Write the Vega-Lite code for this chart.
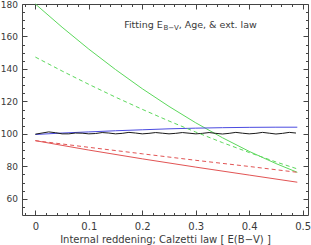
{
  "$schema": "https://vega.github.io/schema/vega-lite/v6.json",
  "width": 286,
  "height": 211,
  "autosize": {"type": "none"},
  "padding": {"left": 22, "top": 4, "right": 3, "bottom": 30},
  "config": {
    "view": {"stroke": "#444", "strokeWidth": 1},
    "axis": {
      "domain": false, "grid": false, "labelFlush": false,
      "labelFont": "DejaVu Sans", "titleFont": "DejaVu Sans",
      "labelFontSize": 10, "titleFontSize": 10, "titleFontWeight": "normal",
      "labelColor": "#3a3a3a", "titleColor": "#3a3a3a", "tickColor": "#444", "tickWidth": 1
    }
  },
  "datasets": {
    "lines": [
      {"s": "g1", "c": "green", "d": "solid", "x": 0, "y": 180},
      {"s": "g1", "c": "green", "d": "solid", "x": 0.05, "y": 165.7},
      {"s": "g1", "c": "green", "d": "solid", "x": 0.1, "y": 152.2},
      {"s": "g1", "c": "green", "d": "solid", "x": 0.15, "y": 139.6},
      {"s": "g1", "c": "green", "d": "solid", "x": 0.2, "y": 127.8},
      {"s": "g1", "c": "green", "d": "solid", "x": 0.25, "y": 116.9},
      {"s": "g1", "c": "green", "d": "solid", "x": 0.3, "y": 106.8},
      {"s": "g1", "c": "green", "d": "solid", "x": 0.35, "y": 97.6},
      {"s": "g1", "c": "green", "d": "solid", "x": 0.4, "y": 89.2},
      {"s": "g1", "c": "green", "d": "solid", "x": 0.45, "y": 81.7},
      {"s": "g1", "c": "green", "d": "solid", "x": 0.49, "y": 76.3},
      {"s": "g2", "c": "green", "d": "dash", "x": 0, "y": 147.3},
      {"s": "g2", "c": "green", "d": "dash", "x": 0.05, "y": 138.7},
      {"s": "g2", "c": "green", "d": "dash", "x": 0.1, "y": 130.5},
      {"s": "g2", "c": "green", "d": "dash", "x": 0.15, "y": 122.6},
      {"s": "g2", "c": "green", "d": "dash", "x": 0.2, "y": 115.1},
      {"s": "g2", "c": "green", "d": "dash", "x": 0.25, "y": 107.9},
      {"s": "g2", "c": "green", "d": "dash", "x": 0.3, "y": 101.1},
      {"s": "g2", "c": "green", "d": "dash", "x": 0.35, "y": 94.6},
      {"s": "g2", "c": "green", "d": "dash", "x": 0.4, "y": 88.5},
      {"s": "g2", "c": "green", "d": "dash", "x": 0.45, "y": 82.7},
      {"s": "g2", "c": "green", "d": "dash", "x": 0.49, "y": 78.4},
      {"s": "b", "c": "blue", "d": "solid", "x": 0, "y": 99.6},
      {"s": "b", "c": "blue", "d": "solid", "x": 0.05, "y": 100.5},
      {"s": "b", "c": "blue", "d": "solid", "x": 0.1, "y": 101.2},
      {"s": "b", "c": "blue", "d": "solid", "x": 0.15, "y": 101.9},
      {"s": "b", "c": "blue", "d": "solid", "x": 0.2, "y": 102.5},
      {"s": "b", "c": "blue", "d": "solid", "x": 0.25, "y": 103.1},
      {"s": "b", "c": "blue", "d": "solid", "x": 0.3, "y": 103.5},
      {"s": "b", "c": "blue", "d": "solid", "x": 0.35, "y": 103.8},
      {"s": "b", "c": "blue", "d": "solid", "x": 0.4, "y": 104.0},
      {"s": "b", "c": "blue", "d": "solid", "x": 0.45, "y": 104.1},
      {"s": "b", "c": "blue", "d": "solid", "x": 0.49, "y": 104.1},
      {"s": "k", "c": "black", "d": "solid", "x": 0, "y": 99.8},
      {"s": "k", "c": "black", "d": "solid", "x": 0.0125, "y": 100.5},
      {"s": "k", "c": "black", "d": "solid", "x": 0.025, "y": 101.2},
      {"s": "k", "c": "black", "d": "solid", "x": 0.0375, "y": 100.7},
      {"s": "k", "c": "black", "d": "solid", "x": 0.05, "y": 100.0},
      {"s": "k", "c": "black", "d": "solid", "x": 0.0625, "y": 100.0},
      {"s": "k", "c": "black", "d": "solid", "x": 0.075, "y": 100.5},
      {"s": "k", "c": "black", "d": "solid", "x": 0.0875, "y": 100.4},
      {"s": "k", "c": "black", "d": "solid", "x": 0.1, "y": 100.0},
      {"s": "k", "c": "black", "d": "solid", "x": 0.1125, "y": 100.2},
      {"s": "k", "c": "black", "d": "solid", "x": 0.125, "y": 100.8},
      {"s": "k", "c": "black", "d": "solid", "x": 0.1375, "y": 100.5},
      {"s": "k", "c": "black", "d": "solid", "x": 0.15, "y": 100.0},
      {"s": "k", "c": "black", "d": "solid", "x": 0.1625, "y": 100.3},
      {"s": "k", "c": "black", "d": "solid", "x": 0.175, "y": 100.9},
      {"s": "k", "c": "black", "d": "solid", "x": 0.1875, "y": 100.5},
      {"s": "k", "c": "black", "d": "solid", "x": 0.2, "y": 100.0},
      {"s": "k", "c": "black", "d": "solid", "x": 0.2125, "y": 100.3},
      {"s": "k", "c": "black", "d": "solid", "x": 0.225, "y": 100.8},
      {"s": "k", "c": "black", "d": "solid", "x": 0.2375, "y": 100.4},
      {"s": "k", "c": "black", "d": "solid", "x": 0.25, "y": 100.0},
      {"s": "k", "c": "black", "d": "solid", "x": 0.2625, "y": 100.3},
      {"s": "k", "c": "black", "d": "solid", "x": 0.275, "y": 100.8},
      {"s": "k", "c": "black", "d": "solid", "x": 0.2875, "y": 100.4},
      {"s": "k", "c": "black", "d": "solid", "x": 0.3, "y": 100.0},
      {"s": "k", "c": "black", "d": "solid", "x": 0.3125, "y": 100.3},
      {"s": "k", "c": "black", "d": "solid", "x": 0.325, "y": 100.8},
      {"s": "k", "c": "black", "d": "solid", "x": 0.3375, "y": 100.3},
      {"s": "k", "c": "black", "d": "solid", "x": 0.35, "y": 99.9},
      {"s": "k", "c": "black", "d": "solid", "x": 0.3625, "y": 100.3},
      {"s": "k", "c": "black", "d": "solid", "x": 0.375, "y": 100.9},
      {"s": "k", "c": "black", "d": "solid", "x": 0.3875, "y": 100.4},
      {"s": "k", "c": "black", "d": "solid", "x": 0.4, "y": 100.0},
      {"s": "k", "c": "black", "d": "solid", "x": 0.4125, "y": 100.3},
      {"s": "k", "c": "black", "d": "solid", "x": 0.425, "y": 100.9},
      {"s": "k", "c": "black", "d": "solid", "x": 0.4375, "y": 100.4},
      {"s": "k", "c": "black", "d": "solid", "x": 0.45, "y": 99.9},
      {"s": "k", "c": "black", "d": "solid", "x": 0.4625, "y": 100.3},
      {"s": "k", "c": "black", "d": "solid", "x": 0.475, "y": 100.9},
      {"s": "k", "c": "black", "d": "solid", "x": 0.4875, "y": 100.5},
      {"s": "r1", "c": "red", "d": "solid", "x": 0, "y": 95.8},
      {"s": "r1", "c": "red", "d": "solid", "x": 0.1, "y": 90.0},
      {"s": "r1", "c": "red", "d": "solid", "x": 0.2, "y": 84.6},
      {"s": "r1", "c": "red", "d": "solid", "x": 0.3, "y": 79.5},
      {"s": "r1", "c": "red", "d": "solid", "x": 0.4, "y": 74.6},
      {"s": "r1", "c": "red", "d": "solid", "x": 0.49, "y": 70.2},
      {"s": "r2", "c": "red", "d": "dash", "x": 0, "y": 95.8},
      {"s": "r2", "c": "red", "d": "dash", "x": 0.1, "y": 91.7},
      {"s": "r2", "c": "red", "d": "dash", "x": 0.2, "y": 87.7},
      {"s": "r2", "c": "red", "d": "dash", "x": 0.3, "y": 83.7},
      {"s": "r2", "c": "red", "d": "dash", "x": 0.4, "y": 79.9},
      {"s": "r2", "c": "red", "d": "dash", "x": 0.49, "y": 76.3}
    ]
  },
  "resolve": {
    "scale": {"x": "shared", "y": "shared"},
    "axis": {"x": "independent", "y": "independent"}
  },
  "layer": [
    {
      "data": {"name": "lines"},
      "transform": [{"filter": "datum.d == 'solid'"}],
      "mark": {"type": "line", "strokeWidth": 1},
      "encoding": {
        "x": {
          "field": "x", "type": "quantitative",
          "scale": {"domain": [-0.025, 0.51], "nice": false, "zero": false},
          "axis": {
            "orient": "bottom", "values": [0, 0.1, 0.2, 0.3, 0.4, 0.5],
            "format": "~g", "tickSize": -5, "labelPadding": 11,
            "title": "Internal reddening; Calzetti law [ E(B−V) ]", "titlePadding": 3
          }
        },
        "y": {
          "field": "y", "type": "quantitative",
          "scale": {"domain": [50, 180], "nice": false, "zero": false},
          "axis": {
            "orient": "left", "values": [60, 80, 100, 120, 140, 160, 180],
            "tickSize": -5, "labelPadding": 9.5, "labelFontSize": 9, "title": null
          }
        },
        "color": {
          "field": "c", "type": "nominal",
          "scale": {"domain": ["green", "blue", "black", "red"], "range": ["#5cd85c", "#4b4be0", "#1a1a1a", "#e25454"]},
          "legend": null
        },
        "detail": {"field": "s"}
      }
    },
    {
      "data": {"name": "lines"},
      "transform": [{"filter": "datum.d == 'dash'"}],
      "mark": {"type": "line", "strokeWidth": 1, "strokeDash": [4, 3]},
      "encoding": {
        "x": {
          "field": "x", "type": "quantitative",
          "axis": {"orient": "top", "values": [0, 0.1, 0.2, 0.3, 0.4, 0.5], "tickSize": -5, "labels": false, "title": null}
        },
        "y": {
          "field": "y", "type": "quantitative",
          "axis": {"orient": "right", "values": [60, 80, 100, 120, 140, 160, 180], "tickSize": -5, "labels": false, "title": null}
        },
        "color": {"field": "c", "type": "nominal", "legend": null},
        "detail": {"field": "s"}
      }
    },
    {
      "data": {"values": [
        {"x": 0.2383, "y": 165.4, "t": "Fitting E", "a": "r"},
        {"x": 0.268, "y": 165.4, "t": ", Age, & ext. law", "a": "l"}
      ]},
      "layer": [
        {
          "transform": [{"filter": "datum.a == 'r'"}],
          "mark": {"type": "text", "align": "right", "baseline": "alphabetic", "font": "DejaVu Sans", "fontSize": 9.5, "color": "#3a3a3a"},
          "encoding": {
            "x": {"field": "x", "type": "quantitative",
              "axis": {"orient": "bottom", "values": [-0.02, 0.02, 0.04, 0.06, 0.08, 0.12, 0.14, 0.16, 0.18, 0.22, 0.24, 0.26, 0.28, 0.32, 0.34, 0.36, 0.38, 0.42, 0.44, 0.46, 0.48], "tickSize": -2.5, "labels": false, "title": null}},
            "y": {"field": "y", "type": "quantitative",
              "axis": {"orient": "left", "values": [55, 65, 70, 75, 85, 90, 95, 105, 110, 115, 125, 130, 135, 145, 150, 155, 165, 170, 175], "tickSize": -2.5, "labels": false, "title": null}},
            "text": {"field": "t"}
          }
        },
        {
          "transform": [{"filter": "datum.a == 'l'"}],
          "mark": {"type": "text", "align": "left", "baseline": "alphabetic", "font": "DejaVu Sans", "fontSize": 9.5, "color": "#3a3a3a"},
          "encoding": {
            "x": {"field": "x", "type": "quantitative",
              "axis": {"orient": "top", "values": [-0.02, 0.02, 0.04, 0.06, 0.08, 0.12, 0.14, 0.16, 0.18, 0.22, 0.24, 0.26, 0.28, 0.32, 0.34, 0.36, 0.38, 0.42, 0.44, 0.46, 0.48], "tickSize": -2.5, "labels": false, "title": null}},
            "y": {"field": "y", "type": "quantitative",
              "axis": {"orient": "right", "values": [55, 65, 70, 75, 85, 90, 95, 105, 110, 115, 125, 130, 135, 145, 150, 155, 165, 170, 175], "tickSize": -2.5, "labels": false, "title": null}},
            "text": {"field": "t"}
          }
        }
      ]
    },
    {
      "data": {"values": [{"x": 0.2395, "y": 163.9, "t": "B−V"}]},
      "mark": {"type": "text", "align": "left", "baseline": "alphabetic", "font": "DejaVu Sans", "fontSize": 7, "color": "#3a3a3a"},
      "encoding": {
        "x": {"field": "x", "type": "quantitative", "axis": null},
        "y": {"field": "y", "type": "quantitative", "axis": null},
        "text": {"field": "t"}
      }
    }
  ]
}
